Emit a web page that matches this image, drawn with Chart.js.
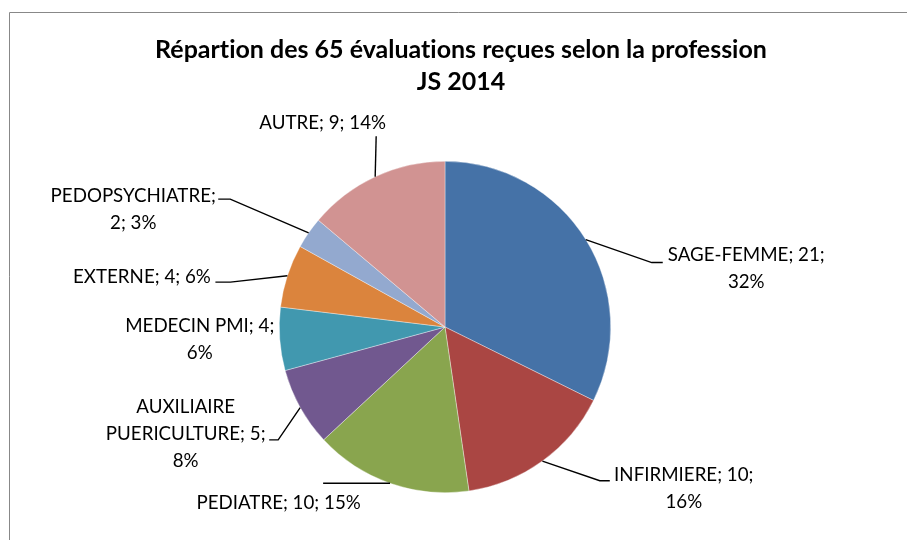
<!DOCTYPE html>
<html><head><meta charset="utf-8">
<script src="https://cdn.jsdelivr.net/npm/chart.js@4.4.0/dist/chart.umd.min.js"></script>
<style>html,body{margin:0;padding:0;background:#fff;} canvas{display:block;}</style>
</head><body>
<canvas id="c" width="907" height="540"></canvas>
<script>
// ---- data ----
const categories = ["SAGE-FEMME","INFIRMIERE","PEDIATRE","AUXILIAIRE PUERICULTURE","MEDECIN PMI","EXTERNE","PEDOPSYCHIATRE","AUTRE"];
const counts = [21,10,10,5,4,4,2,9];
const percentLabels = ["32%","16%","15%","8%","6%","6%","3%","14%"];
const titleLines = ["Répartion des 65 évaluations reçues selon la profession","JS 2014"];

// ---- styling / layout ----
const colors = ['#4572A7','#AA4643','#89A54E','#71588F','#4198AF','#DB843D','#93A9CF','#D19392'];
const lineBreaks = [[2],[2],[],[1,3],[3],[],[1],[]]; // word indices where a new line starts
const labelOffsets = [[160.5,28.5],[141.4,27.2],[-111.4,19.4],[-114.5,26.6],[-80,0.8],[-145.5,1.3],[-175.4,-23.2],[-52.5,-53.4]];
const leaderPaths = [[[-83.5,-5.5],[-94.5,-5.5]],[[-74,-7.5],[-84,-7.5]],[[44.5,-19.5]],[[83.5,5.7],[92.5,5.7]],[],[[73.5,5],[88.5,5]],[[85,-10.5],[97,-10.5]],[[53.5,13]]];
const FAMILY = 'Lato, "Open Sans", sans-serif';

function buildLines(i){
  const words = (categories[i] + '; ' + counts[i] + '; ' + percentLabels[i]).split(' ');
  const lines = []; let cur = [];
  words.forEach((w,k)=>{ if(lineBreaks[i].includes(k) && cur.length){lines.push(cur.join(' ')); cur=[];} cur.push(w); });
  if(cur.length) lines.push(cur.join(' '));
  return lines;
}

const decor = {
  id:'decor',
  afterDraw(chart){
    const ctx = chart.ctx;
    ctx.save();
    try { ctx.textRendering = 'optimizeSpeed'; } catch(e) {}
    // frame
    ctx.strokeStyle = '#888888'; ctx.lineWidth = 1;
    ctx.beginPath(); ctx.moveTo(9.5,545); ctx.lineTo(9.5,12.5); ctx.lineTo(912,12.5); ctx.stroke();
    // title
    ctx.font = 'bold 20px ' + FAMILY;
    let tw = ctx.measureText(titleLines[0]).width;
    const tSize = 20*612/tw;
    ctx.font = 'bold ' + tSize.toFixed(2) + 'px ' + FAMILY;
    ctx.fillStyle = '#000'; ctx.textAlign='center'; ctx.textBaseline='middle';
    ctx.fillText(titleLines[0], 461, 50);
    ctx.fillText(titleLines[1], 461, 82);
    // labels
    ctx.font = '16px ' + FAMILY;
    const lw = ctx.measureText('SAGE-FEMME; 21;').width;
    const lSize = 16*157/lw;
    ctx.font = lSize.toFixed(2) + 'px ' + FAMILY;
    const meta = chart.getDatasetMeta(0);
    meta.data.forEach((arc,i)=>{
      const p = arc.getProps(['x','y','startAngle','endAngle','outerRadius'], true);
      const mid = (p.startAngle + p.endAngle)/2;
      const ex = p.x + Math.cos(mid)*p.outerRadius, ey = p.y + Math.sin(mid)*p.outerRadius;
      const cx = ex + labelOffsets[i][0], cy = ey + labelOffsets[i][1];
      const lines = buildLines(i);
      const lh = 27;
      lines.forEach((t,k)=>{ ctx.fillText(t, cx, cy + (k-(lines.length-1)/2)*lh); });
      const path = leaderPaths[i];
      if(path.length){
        ctx.strokeStyle = '#000'; ctx.lineWidth = 1.4;
        ctx.beginPath();
        ctx.moveTo(cx+path[0][0], cy+path[0][1]);
        for(let k=1;k<path.length;k++) ctx.lineTo(cx+path[k][0], cy+path[k][1]);
        ctx.lineTo(ex, ey);
        ctx.stroke();
      }
    });
    ctx.restore();
  }
};

new Chart(document.getElementById('c'), {
  type:'pie',
  data:{ labels: categories, datasets:[{ data: counts, backgroundColor: colors, borderColor:'rgba(255,255,255,0.6)', borderWidth:0.6 }]},
  options:{
    responsive:false, animation:false,
    layout:{ padding:{ left:279, right:296, top:161, bottom:47 } },
    plugins:{ legend:{display:false}, tooltip:{enabled:false}, title:{display:false} }
  },
  plugins:[decor]
});
</script>
</body></html>
